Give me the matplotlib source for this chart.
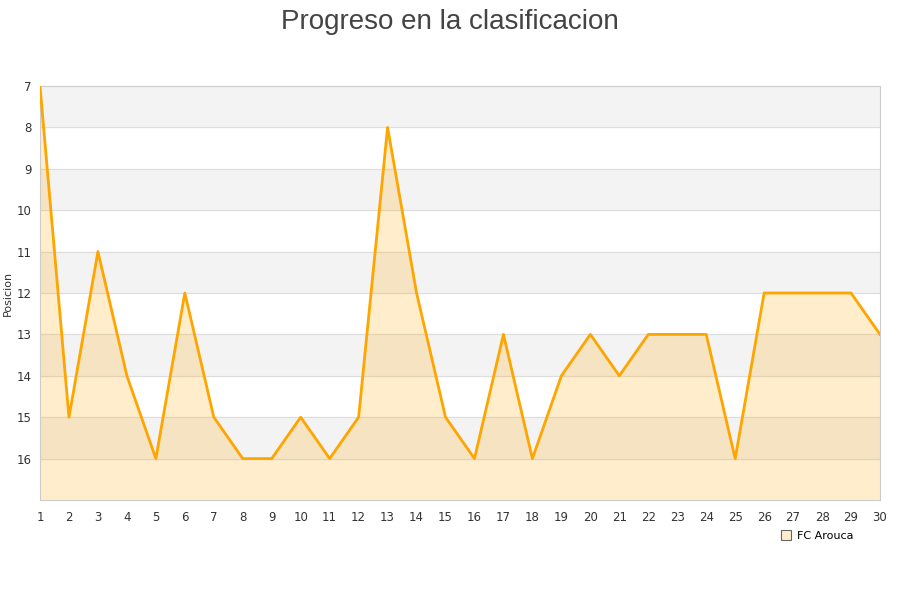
import numpy as np
import matplotlib.pyplot as plt

jornadas = list(range(1, 31))
posicion = [7, 15, 11, 14, 16, 12, 15, 16, 16, 15, 16, 15, 8, 12, 15,
            16, 13, 16, 14, 13, 14, 13, 13, 13, 16, 12, 12, 12, 12, 13]
equipo = 'FC Arouca'

fig = plt.figure(figsize=(9, 6), dpi=100)
ax = fig.add_axes([40/900, 100/600, 840/900, 414/600])

# bandas alternas
for y0 in range(7, 17, 2):
    ax.axhspan(y0, y0 + 1, color='#f3f3f3', zorder=0)
for y in range(8, 17):
    ax.axhline(y, color='#dddddd', lw=0.8, zorder=1)

ax.fill_between(jornadas, posicion, 17, color='#FFA500', alpha=0.2, lw=0, zorder=2)
ax.plot(jornadas, posicion, color='#FFA500', lw=2, zorder=3)
ax.plot([], [], 's', ms=7, mfc='#FFEDCC', mec='#666666', mew=0.8, ls='none', label=equipo)

ax.set_xlim(1, 30)
ax.set_ylim(17, 7)
ax.set_xticks(jornadas)
ax.set_yticks(range(7, 17))
ax.tick_params(length=0, labelsize=8.5, colors='#333333')
ax.tick_params(axis='y', pad=6)
ax.tick_params(axis='x', pad=8)
for s in ax.spines.values():
    s.set_color('#cccccc')
ax.set_ylabel('Posicion', fontsize=8, color='#333333', labelpad=3)
fig.text(0.5, 0.963, 'Progreso en la clasificacion', ha='center', va='center',
         fontsize=20, color='#444444', family='Liberation Sans')
ax.legend(loc='upper right', bbox_to_anchor=(0.98, -0.05), frameon=False, fontsize=8,
          handletextpad=0.5, handlelength=1)

plt.savefig('out.png')
